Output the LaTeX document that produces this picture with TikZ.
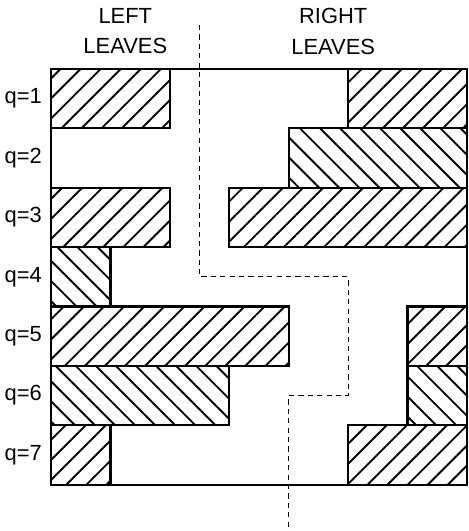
\documentclass[tikz,border=0pt]{standalone}
\usepackage{fontspec}
\setmainfont{Liberation Sans}
\usetikzlibrary{patterns.meta}

\begin{document}
\begin{tikzpicture}[line width=1pt,
    fwd/.style = {draw, pattern={Lines[angle=45, distance=6.8pt, line width=0.9pt]}},
    bwd/.style = {draw, pattern={Lines[angle=-45, distance=6.8pt, line width=0.9pt]}},
    lbl/.style = {font=\fontsize{10.5}{14.4}\selectfont, align=center}]
    \useasboundingbox (-0.86,-0.78) rectangle (7.02,8.16);
    % leaves, row by row
    \draw[fwd] (0,6) rectangle (2,7);
    \draw[fwd] (5,6) rectangle (7,7);
    \draw[bwd] (4,5) rectangle (7,6);
    \draw[fwd] (0,4) rectangle (2,5);
    \draw[fwd] (3,4) rectangle (7,5);
    \draw[bwd] (0,3) rectangle (1,4);
    \draw[fwd] (0,2) rectangle (4,3);
    \draw[fwd] (6,2) rectangle (7,3);
    \draw[bwd] (0,1) rectangle (3,2);
    \draw[bwd] (6,1) rectangle (7,2);
    \draw[fwd] (0,0) rectangle (1,1);
    \draw[fwd] (5,0) rectangle (7,1);
    \draw (0,0) rectangle (7,7);
    % border between the two sides
    \draw[line width=0.5pt, dash pattern=on 2.5pt off 2pt] (2.5,7.74) -- (2.5,3.5) -| (5,1.5) -| (4,-0.78);
    \node[lbl] (left) at (1.25,7.63) {LEFT\\LEAVES};
    \node[lbl] (right) at (4.75,7.63) {RIGHT\\LEAVES};
    \foreach \q in {1,...,7}
        \node[lbl] (q\q) at (-0.47,7.5-\q) {q=\q};
\end{tikzpicture}
\end{document}
